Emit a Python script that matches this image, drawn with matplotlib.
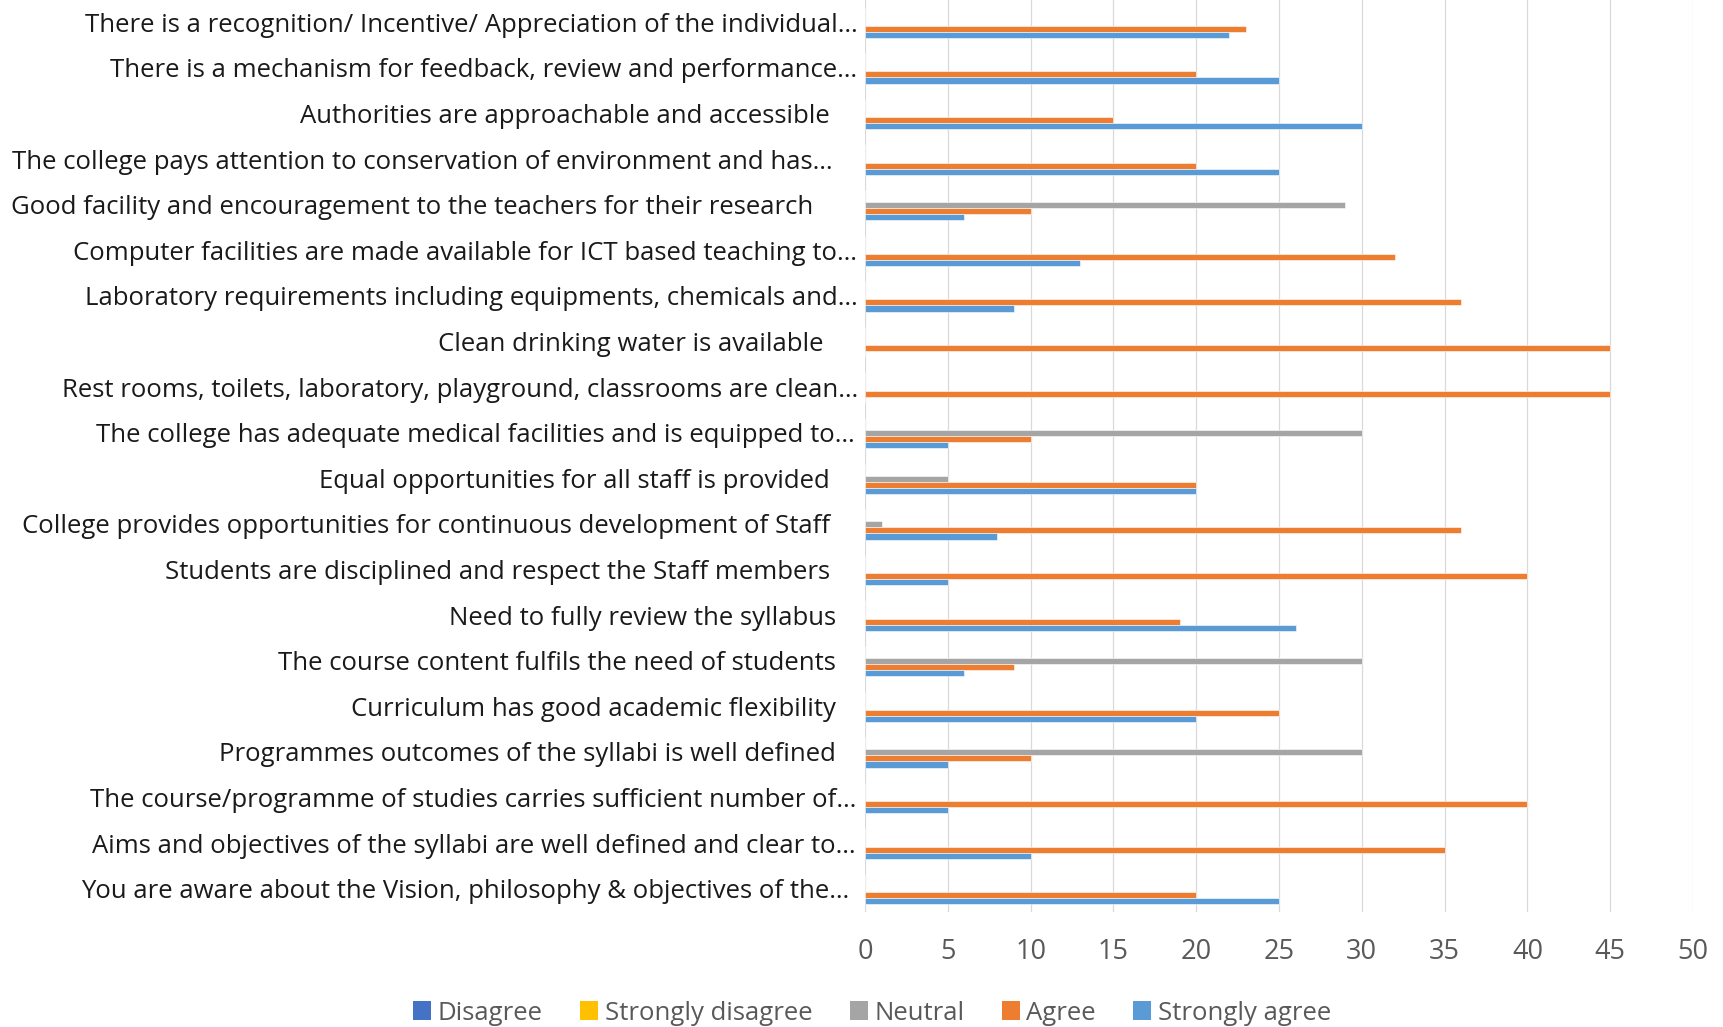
import matplotlib
matplotlib.use("Agg")
import matplotlib.pyplot as plt
import numpy as np
from matplotlib.patches import Patch
from matplotlib.transforms import blended_transform_factory, offset_copy

categories = [
    "There is a recognition/ Incentive/ Appreciation of the individual\u2026",
    "There is a mechanism for feedback, review and performance\u2026",
    "Authorities are approachable and accessible",
    "The college pays attention to conservation of environment and has\u2026",
    "Good facility and encouragement to the teachers for their research",
    "Computer facilities are made available for ICT based teaching to\u2026",
    "Laboratory requirements including equipments, chemicals and\u2026",
    "Clean drinking water is available",
    "Rest rooms, toilets, laboratory, playground, classrooms are clean\u2026",
    "The college has adequate medical facilities and is equipped to\u2026",
    "Equal opportunities for all staff is provided",
    "College provides opportunities for continuous development of Staff",
    "Students are disciplined and respect the Staff members",
    "Need to fully review the syllabus",
    "The course content fulfils the need of students",
    "Curriculum has good academic flexibility",
    "Programmes outcomes of the syllabi is well defined",
    "The course/programme of studies carries sufficient number of\u2026",
    "Aims and objectives of the syllabi are well defined and clear to\u2026",
    "You are aware about the Vision, philosophy & objectives of the\u2026",
]

series_names = ["Disagree", "Strongly disagree", "Neutral", "Agree", "Strongly agree"]
disagree          = [0, 0, 0, 0, 0, 0, 0, 0, 0, 0, 0, 0, 0, 0, 0, 0, 0, 0, 0, 0]
strongly_disagree = [0, 0, 0, 0, 0, 0, 0, 0, 0, 0, 0, 0, 0, 0, 0, 0, 0, 0, 0, 0]
neutral           = [0, 0, 0, 0, 29, 0, 0, 0, 0, 30, 5, 1, 0, 0, 30, 0, 30, 0, 0, 0]
agree             = [23, 20, 15, 20, 10, 32, 36, 45, 45, 10, 20, 36, 40, 19, 9, 25, 10, 40, 35, 20]
strongly_agree    = [22, 25, 30, 25, 6, 13, 9, 0, 0, 5, 20, 8, 5, 26, 6, 20, 5, 5, 10, 25]
x_ticks = [0, 5, 10, 15, 20, 25, 30, 35, 40, 45, 50]

colors = ["#4472C4", "#FFC000", "#A5A5A5", "#ED7D31", "#5B9BD5"]
# extra right padding (px) of each category label, mimicking the original layout
label_extra_pad = [0, 1, 28, 25, 45, 1, 0, 34, 0, 3, 28, 28, 28, 22, 22, 22, 22, 2, 2, 9]

FONT = "Open Sans"
W, H, DPI = 1724, 1027, 100
fig = plt.figure(figsize=(W / DPI, H / DPI), dpi=DPI)
ax = fig.add_axes([865 / W, 1 - 912 / H, (1693 - 865) / W, 912 / H])

# fit label font size to the reference width of the first label
renderer = fig.canvas.get_renderer()
t = fig.text(0, 0, categories[0], fontsize=10, family=FONT)
wpx = t.get_window_extent(renderer).width
t.remove()
lab_fs = 10 * 774 / wpx

values = [disagree, strongly_disagree, neutral, agree, strongly_agree]
n = len(categories)
y = np.arange(n)
h = 0.133
offsets = [-2, -1, 0, 1, 2]
for name, vals, col, off in zip(series_names, values, colors, offsets):
    ax.barh(y + off * h, vals, height=h, color=col, edgecolor="white",
            linewidth=0.4, label=name, zorder=3)

ax.set_xlim(0, 50)
ax.set_ylim(n - 0.5, -0.5)
ax.set_xticks(x_ticks)
ax.set_xticklabels([str(v) for v in x_ticks], fontsize=lab_fs * 1.05,
                   color="#595959", family=FONT)
ax.tick_params(axis="x", length=0, pad=18.5)
ax.set_yticks([])
ax.grid(axis="x", color="#d9d9d9", linewidth=0.9, zorder=0)
for s in ax.spines.values():
    s.set_visible(False)

trans = blended_transform_factory(ax.transAxes, ax.transData)
for i, (lab, pad) in enumerate(zip(categories, label_extra_pad)):
    tr = offset_copy(trans, fig=fig, x=-(7 + pad), y=-2.5, units="dots")
    ax.text(0, i, lab, transform=tr, ha="right", va="center",
            fontsize=lab_fs, color="#1a1a1a", family=FONT)

handles = [Patch(facecolor=c, edgecolor="none") for c in colors]
leg = fig.legend(handles, series_names, loc="center", ncol=5,
                 bbox_to_anchor=(872 / W, 1 - 1013 / H), frameon=False,
                 prop={"family": FONT, "size": lab_fs},
                 handlelength=0.7, handleheight=0.7, handletextpad=0.25,
                 columnspacing=1.45, borderaxespad=0, borderpad=0)
for txt in leg.get_texts():
    txt.set_color("#595959")

fig.savefig("out.png", dpi=DPI)
